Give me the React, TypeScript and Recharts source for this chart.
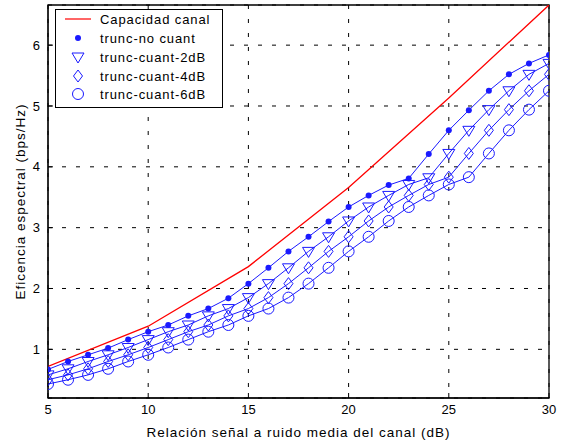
import { CartesianGrid, Line, LineChart, ReferenceArea, XAxis, YAxis } from "recharts";

const snr = [5, 6, 7, 8, 9, 10, 11, 12, 13, 14, 15, 16, 17, 18, 19, 20, 21, 22, 23, 24, 25, 26, 27, 28, 29, 30];

const capacitySnr = [5, 10, 15, 20, 25, 30];
const capacity = [0.72, 1.38, 2.36, 3.66, 5.13, 6.66];

const noQuant = [0.67, 0.8, 0.91, 1.02, 1.16, 1.29, 1.4, 1.55, 1.67, 1.84, 2.08, 2.34, 2.61, 2.85, 3.1, 3.34, 3.53, 3.7, 3.81, 4.21, 4.6, 4.93, 5.25, 5.52, 5.7, 5.84];
const quant2dB = [0.58, 0.68, 0.8, 0.91, 1.03, 1.16, 1.29, 1.4, 1.55, 1.67, 1.85, 2.08, 2.34, 2.61, 2.85, 3.11, 3.34, 3.53, 3.71, 3.82, 4.22, 4.6, 4.94, 5.25, 5.52, 5.7];
const quant4dB = [0.5, 0.58, 0.68, 0.8, 0.91, 1.03, 1.16, 1.29, 1.4, 1.55, 1.67, 1.85, 2.08, 2.34, 2.61, 2.85, 3.11, 3.34, 3.53, 3.71, 3.83, 4.22, 4.6, 4.94, 5.25, 5.52];
const quant6dB = [0.43, 0.5, 0.58, 0.68, 0.8, 0.91, 1.03, 1.16, 1.29, 1.4, 1.55, 1.67, 1.85, 2.08, 2.34, 2.61, 2.85, 3.11, 3.34, 3.53, 3.71, 3.83, 4.22, 4.6, 4.94, 5.25];

const xTicks = [5, 10, 15, 20, 25, 30];
const yTicks = [1, 2, 3, 4, 5, 6];
const xDomain = [5, 30];
const yDomain = [0.2, 6.66];

const BLUE = "#1a1aff";
const RED = "#ff0000";
const FONT = "'Liberation Sans', Arial, sans-serif";

type Shape = "dot" | "tri" | "diamond" | "circle";

function Marker({ cx, cy, shape }: { cx: number; cy: number; shape: Shape }) {
  if (shape === "dot") return <circle cx={cx} cy={cy} r={3} fill={BLUE} stroke="none" />;
  if (shape === "circle") return <circle cx={cx} cy={cy} r={5.5} fill="none" stroke={BLUE} strokeWidth={1} />;
  if (shape === "tri")
    return (
      <polygon
        points={`${cx - 6},${cy - 4} ${cx + 6},${cy - 4} ${cx},${cy + 6}`}
        fill="none"
        stroke={BLUE}
        strokeWidth={1}
      />
    );
  return (
    <polygon
      points={`${cx},${cy - 6} ${cx + 4.5},${cy} ${cx},${cy + 6} ${cx - 4.5},${cy}`}
      fill="none"
      stroke={BLUE}
      strokeWidth={1}
    />
  );
}

const toPoints = (xs: number[], ys: number[]) => xs.map((x, i) => ({ x, y: ys[i] }));

const blueSeries: { name: string; values: number[]; shape: Shape }[] = [
  { name: "trunc-no cuant", values: noQuant, shape: "dot" },
  { name: "trunc-cuant-2dB", values: quant2dB, shape: "tri" },
  { name: "trunc-cuant-4dB", values: quant4dB, shape: "diamond" },
  { name: "trunc-cuant-6dB", values: quant6dB, shape: "circle" },
];

function LegendBox() {
  const rowY = [19, 38, 57, 76, 94];
  return (
    <svg
      width={168}
      height={99}
      style={{ position: "absolute", left: 55, top: 9, fontFamily: FONT }}
    >
      <rect x={0.5} y={0.5} width={167} height={98} fill="#fff" stroke="#000" strokeWidth={1} />
      <line x1={10} x2={36} y1={rowY[0] - 9} y2={rowY[0] - 9} stroke={RED} strokeWidth={1.2} />
      <text x={45} y={rowY[0] - 4} fontSize={13} fill="#000" letterSpacing={0.9}>
        Capacidad canal
      </text>
      {blueSeries.map((s, i) => (
        <g key={s.name}>
          <Marker cx={23} cy={rowY[i + 1] - 9} shape={s.shape} />
          <text x={45} y={rowY[i + 1] - 4} fontSize={13} fill="#000" letterSpacing={0.9}>
            {s.name}
          </text>
        </g>
      ))}
    </svg>
  );
}

export default function App() {
  const tickStyle = { fontSize: 13, fill: "#000", fontFamily: FONT };
  const labelStyle = { fontSize: 13.5, fill: "#000", fontFamily: FONT, letterSpacing: 1 };
  return (
    <div style={{ position: "absolute", left: 0, top: 0, width: 563, height: 441, background: "#fff" }}>
      <LineChart width={563} height={441} margin={{ top: 5, right: 14, bottom: 0, left: 8 }}>
        <CartesianGrid stroke="#000" strokeDasharray="4 10" strokeWidth={1} />
        <XAxis
          type="number"
          dataKey="x"
          domain={xDomain}
          ticks={xTicks}
          allowDataOverflow
          height={43}
          tickSize={-5}
          tickMargin={12}
          stroke="#000"
          tick={tickStyle}
          label={{
            value: "Relación señal a ruido media del canal (dB)",
            position: "insideBottom",
            offset: 4,
            style: labelStyle,
          }}
        />
        <YAxis
          type="number"
          domain={yDomain}
          ticks={yTicks}
          allowDataOverflow
          width={40}
          tickSize={-5}
          tickMargin={13}
          stroke="#000"
          tick={tickStyle}
          label={{
            value: "Eficencia espectral (bps/Hz)",
            angle: -90,
            position: "center",
            dx: -8,
            style: labelStyle,
          }}
        />
        <ReferenceArea
          x1={xDomain[0]}
          x2={xDomain[1]}
          y1={yDomain[0]}
          y2={yDomain[1]}
          fill="none"
          stroke="#000"
          strokeWidth={1.3}
          ifOverflow="visible"
        />
        <Line
          data={toPoints(capacitySnr, capacity)}
          dataKey="y"
          name="Capacidad canal"
          stroke={RED}
          strokeWidth={1.3}
          dot={false}
          activeDot={false}
          type="linear"
          isAnimationActive={false}
        />
        {blueSeries.map((s) => (
          <Line
            key={s.name}
            data={toPoints(snr, s.values)}
            dataKey="y"
            name={s.name}
            stroke={BLUE}
            strokeWidth={1}
            type="linear"
            activeDot={false}
            isAnimationActive={false}
            dot={(p: any) => <Marker key={`${s.name}-${p.index}`} cx={p.cx} cy={p.cy} shape={s.shape} />}
          />
        ))}
      </LineChart>
      <LegendBox />
    </div>
  );
}
